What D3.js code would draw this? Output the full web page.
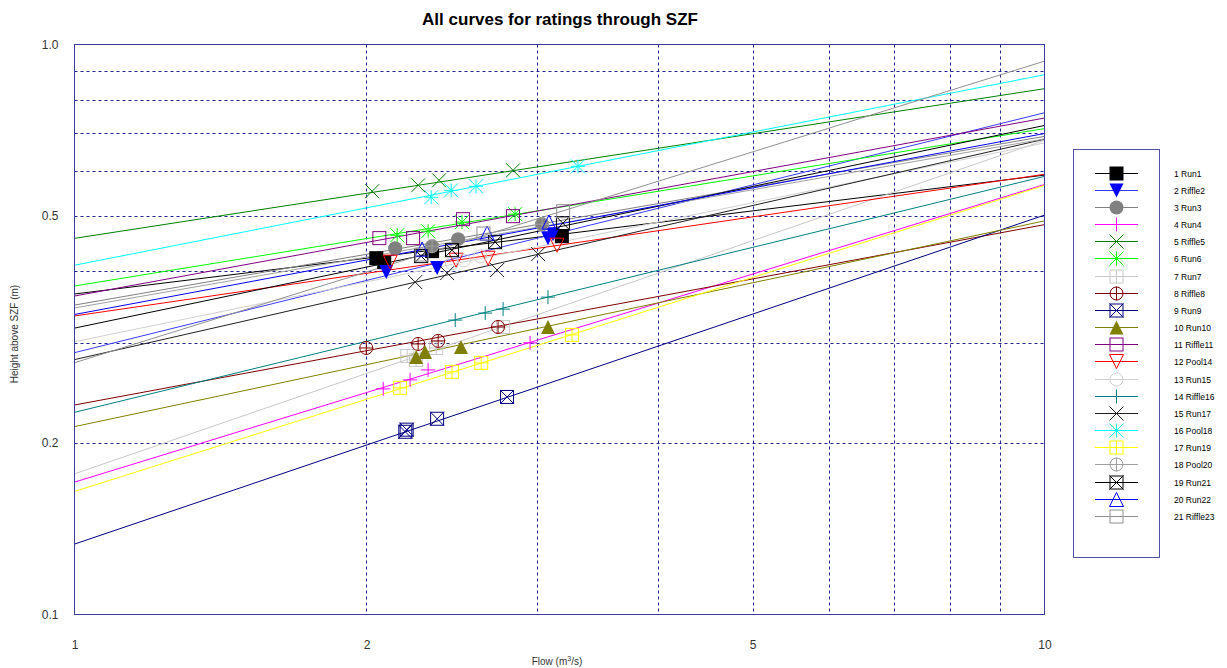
<!DOCTYPE html>
<html>
<head>
<meta charset="utf-8">
<script src="https://cdn.jsdelivr.net/npm/d3@7"></script>
<style>
  body { margin: 0; background: #fff; }
  svg { display: block; font-family: "Liberation Sans", Arial, sans-serif; }
</style>
</head>
<body>
<svg id="chart" width="1227" height="668"></svg>
<script>
// ---------------- DATA ----------------
const seriesNames = ["1 Run1","2 Riffle2","3 Run3","4 Run4","5 Riffle5","6 Run6","7 Run7","8 Riffle8","9 Run9","10 Run10",
  "11 Riffle11","12 Pool14","13 Run15","14 Riffle16","15 Run17","16 Pool18","17 Run19","18 Pool20","19 Run21","20 Run22","21 Riffle23"];

// rating curve heights at flow = 1 and flow = 10 (power law, straight on log-log)
const lineFlows = [1, 10];
const heightAtFlow1  = [0.365,0.288,0.349,0.1707,0.457,0.377,0.1765,0.2331,0.1329,0.2136,0.362,0.334,0.301,0.2263,0.280,0.410,0.1644,0.345,0.318,0.336,0.2765];
const heightAtFlow10 = [0.590,0.759,0.690,0.568,0.8365,0.712,0.679,0.483,0.502,0.4904,0.743,0.592,0.672,0.587,0.682,0.885,0.566,0.683,0.721,0.698,0.935];

// measured points
const pointFlows = [
  [2.047,2.086,2.337,3.18],
  [2.096,2.365,3.077,3.114],
  [2.141,2.337,2.486,3.034],
  [2.081,2.218,2.315,2.949],
  [2.027,2.261,2.376,2.832],
  [2.151,2.315,2.509,2.846],
  [2.203,2.25,2.36,2.766],
  [1.999,2.261,2.371,2.733],
  [2.193,2.2,2.365,2.792],
  [2.25,2.298,2.503,3.077],
  [2.062,2.234,2.515,2.832],
  [2.116,2.474,2.669,3.144],
  [2.45,2.52,2.62],
  [2.469,2.651,2.766,3.077],
  [2.245,2.422,2.727,3.006],
  [2.332,2.445,2.594,3.304],
  [2.166,2.45,2.626,3.258],
  [2.337,3.034],
  [2.277,2.45,2.714,3.188],
  [2.282,2.663,3.084],
  [2.28,2.64,3.19]
];
const pointHeights = [
  [0.4218,0.4151,0.434,0.461],
  [0.3989,0.4053,0.4574,0.4648],
  [0.4392,0.4428,0.4555,0.4838],
  [0.2488,0.258,0.2686,0.2996],
  [0.5528,0.5663,0.5778,0.6016],
  [0.4628,0.4703,0.488,0.504],
  [0.2842,0.2796,0.2935,0.3195],
  [0.2935,0.2983,0.302,0.3195],
  [0.2092,0.211,0.2205,0.2408],
  [0.283,0.2888,0.2947,0.3195],
  [0.4574,0.4574,0.4938,0.4998],
  [0.4151,0.4184,0.4218,0.4446],
  [0.413,0.418,0.425],
  [0.3285,0.3379,0.3434,0.3604],
  [0.383,0.3972,0.4021,0.4288],
  [0.5395,0.5549,0.564,0.6113],
  [0.2498,0.2665,0.2763,0.3094],
  [0.4428,0.4838],
  [0.4253,0.4357,0.45,0.4858],
  [0.4375,0.4667,0.488],
  [0.428,0.466,0.51]
];

const xTickValues = [1, 2, 5, 10];
const yTickValues = [0.1, 0.2, 0.5, 1.0];
const xGridValues = [2,3,4,5,6,7,8,9];
const yGridValues = [0.2,0.3,0.4,0.5,0.6,0.7,0.8,0.9];

// ---------------- STYLE ----------------
const markerColors = ["#000000","#0000ff","#808080","#ff00ff","#008000","#00ff00","#c8c8c8","#800000","#000080","#808000",
  "#800080","#ff0000","#d0d0d0","#008080","#202020","#00ffff","#ffff00","#a0a0a0","#000000","#0000ff","#909090"];
const lineColors = ["#000000","#3a3aff","#808080","#ff00ff","#008000","#00ff00","#c8c8c8","#800000","#000080","#808000",
  "#800080","#ff0000","#d0d0d0","#008080","#202020","#00ffff","#ffff00","#a0a0a0","#000000","#0000ff","#909090"];
const markerTypes = ["fsquare","fdown","fcircle","plus","x","star","boxplus","circplus","boxx","fup",
  "square","down","circle","plus","x","star","boxplus","circplus","boxx","up","square"];

const pL = 74.5, pR = 1044.5, pT = 44.5, pB = 614.5;

const svg = d3.select("#chart");
const x = d3.scaleLog().domain([1, 10]).range([pL, pR]);
const y = d3.scaleLog().domain([0.1, 1]).range([pB, pT]);

svg.append("defs").append("clipPath").attr("id", "plotclip")
  .append("rect").attr("x", pL).attr("y", pT).attr("width", pR - pL).attr("height", pB - pT);

// grid
const grid = svg.append("g");
grid.selectAll(".vg").data(xGridValues).enter().append("line")
  .attr("x1", d => Math.round(x(d)) + 0.5).attr("x2", d => Math.round(x(d)) + 0.5)
  .attr("y1", pT).attr("y2", pB)
  .attr("stroke", "#22228f").attr("stroke-width", 1).attr("stroke-dasharray", "3,3");
grid.selectAll(".hg").data(yGridValues).enter().append("line")
  .attr("y1", d => Math.round(y(d)) + 0.5).attr("y2", d => Math.round(y(d)) + 0.5)
  .attr("x1", pL).attr("x2", pR)
  .attr("stroke", "#22228f").attr("stroke-width", 1).attr("stroke-dasharray", "3,3");

// lines
const plot = svg.append("g").attr("clip-path", "url(#plotclip)");
const lineGen = d3.line().x(d => x(d[0])).y(d => y(d[1]));
seriesNames.forEach((n, i) => {
  const pts = lineFlows.map((f, k) => [f, k === 0 ? heightAtFlow1[i] : heightAtFlow10[i]]);
  plot.append("path").attr("d", lineGen(pts)).attr("fill", "none")
    .attr("stroke", lineColors[i]).attr("stroke-width", 1);
});

// markers
function drawMarker(g, type, cx, cy, color) {
  const h = 7;
  const ln = (x1, y1, x2, y2) => g.append("line").attr("x1", x1).attr("y1", y1).attr("x2", x2).attr("y2", y2)
    .attr("stroke", color).attr("stroke-width", 1);
  switch (type) {
    case "fsquare": g.append("rect").attr("x", cx - h).attr("y", cy - h).attr("width", 2*h).attr("height", 2*h).attr("fill", color); break;
    case "square": g.append("rect").attr("x", cx - h + 0.5).attr("y", cy - h + 0.5).attr("width", 2*h - 1).attr("height", 2*h - 1).attr("fill", "none").attr("stroke", color); break;
    case "fdown": g.append("path").attr("d", `M${cx-h},${cy-h}L${cx+h},${cy-h}L${cx},${cy+h}Z`).attr("fill", color); break;
    case "down": g.append("path").attr("d", `M${cx-h},${cy-h}L${cx+h},${cy-h}L${cx},${cy+h}Z`).attr("fill", "none").attr("stroke", color); break;
    case "fup": g.append("path").attr("d", `M${cx-h},${cy+h}L${cx+h},${cy+h}L${cx},${cy-h}Z`).attr("fill", color); break;
    case "up": g.append("path").attr("d", `M${cx-h},${cy+h}L${cx+h},${cy+h}L${cx},${cy-h}Z`).attr("fill", "none").attr("stroke", color); break;
    case "fcircle": g.append("circle").attr("cx", cx).attr("cy", cy).attr("r", h).attr("fill", color); break;
    case "circle": g.append("circle").attr("cx", cx).attr("cy", cy).attr("r", h - 0.5).attr("fill", "none").attr("stroke", color); break;
    case "plus": ln(cx - h, cy, cx + h, cy); ln(cx, cy - h, cx, cy + h); break;
    case "x": ln(cx - h, cy - h, cx + h, cy + h); ln(cx - h, cy + h, cx + h, cy - h); break;
    case "star": ln(cx - h, cy - h, cx + h, cy + h); ln(cx - h, cy + h, cx + h, cy - h); ln(cx - h, cy, cx + h, cy); ln(cx, cy - h, cx, cy + h); break;
    case "boxplus": drawMarker(g, "square", cx, cy, color); ln(cx - h, cy, cx + h, cy); ln(cx, cy - h, cx, cy + h); break;
    case "boxx": drawMarker(g, "square", cx, cy, color); ln(cx - h, cy - h, cx + h, cy + h); ln(cx - h, cy + h, cx + h, cy - h); break;
    case "circplus": drawMarker(g, "circle", cx, cy, color); ln(cx - h, cy, cx + h, cy); ln(cx, cy - h, cx, cy + h); break;
  }
}
const mk = svg.append("g");
seriesNames.forEach((n, i) => {
  pointFlows[i].forEach((f, k) => {
    drawMarker(mk.append("g"), markerTypes[i], x(f), y(pointHeights[i][k]), markerColors[i]);
  });
});

// frame
svg.append("rect").attr("x", pL).attr("y", pT).attr("width", pR - pL).attr("height", pB - pT)
  .attr("fill", "none").attr("stroke", "#3c3ca0").attr("stroke-width", 1);

// axes
const xAxis = d3.axisBottom(x).tickValues(xTickValues).tickSize(0).tickPadding(26).tickFormat(d3.format("d"));
const gx = svg.append("g").attr("transform", `translate(0,${pB})`).call(xAxis);
gx.select(".domain").remove();
gx.selectAll("text").attr("font-size", 12).attr("fill", "#333").attr("font-family", "Liberation Sans, Arial, sans-serif");

const yAxis = d3.axisLeft(y).tickValues(yTickValues).tickSize(0).tickPadding(16).tickFormat(d3.format(".1f"));
const gy = svg.append("g").attr("transform", `translate(${pL},0)`).call(yAxis);
gy.select(".domain").remove();
gy.selectAll("text").attr("font-size", 12).attr("fill", "#333").attr("font-family", "Liberation Sans, Arial, sans-serif");

// titles
svg.append("text").attr("x", 560).attr("y", 25).attr("text-anchor", "middle")
  .attr("font-size", 17).attr("font-weight", "bold").text("All curves for ratings through SZF");
const xl = svg.append("text").attr("x", 557).attr("y", 665).attr("text-anchor", "middle").attr("font-size", 10).attr("fill", "#333");
xl.append("tspan").text("Flow (m");
xl.append("tspan").attr("font-size", 7).attr("dy", -4).text("3");
xl.append("tspan").attr("dy", 4).text("/s)");
svg.append("text").attr("transform", "translate(18,334) rotate(-90)").attr("text-anchor", "middle")
  .attr("font-size", 10).attr("fill", "#333").text("Height above SZF (m)");

// legend
const lg = svg.append("g");
lg.append("rect").attr("x", 1073.5).attr("y", 149.5).attr("width", 86).attr("height", 408)
  .attr("fill", "#fff").attr("stroke", "#5050a8").attr("stroke-width", 1);
const rowY = i => 172.5 + i * 17.17;
seriesNames.forEach((n, i) => {
  const ry = Math.round(rowY(i)) + 0.5;
  lg.append("line").attr("x1", 1095).attr("x2", 1138).attr("y1", ry).attr("y2", ry)
    .attr("stroke", lineColors[i]).attr("stroke-width", 1);
  drawMarker(lg.append("g"), markerTypes[i], 1116.5, ry, markerColors[i]);
  lg.append("text").attr("x", 1174).attr("y", ry + 3).attr("font-size", 8.5).attr("fill", "#000").text(n);
});
</script>
</body>
</html>
